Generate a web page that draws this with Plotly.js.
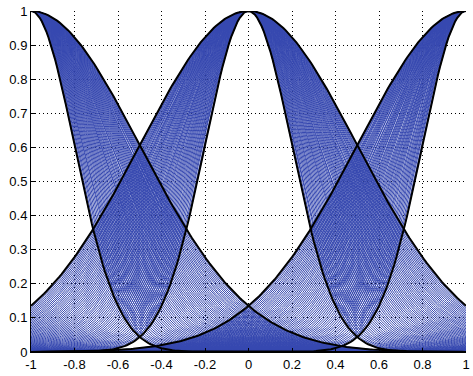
<!DOCTYPE html>
<html>
<head>
<meta charset="utf-8">
<script src="https://cdn.plot.ly/plotly-3.0.1.min.js"></script>
<style>html,body{margin:0;padding:0;background:#fff;}#plot{width:473px;height:376px;}</style>
</head>
<body>
<div id="plot"></div>
<script>
// Gaussian membership sets with uncertain width
var centers = [-1, 0, 1];
var sigmaLow = [0.2, 0.2, 0.2];
var sigmaHigh = [0.5, 0.5, 0.5];
var linesPerSet = 62;
var xTickVals = [-1, -0.8, -0.6, -0.4, -0.2, 0, 0.2, 0.4, 0.6, 0.8, 1];
var xTickText = ["-1", "-0.8", "-0.6", "-0.4", "-0.2", "0", "0.2", "0.4", "0.6", "0.8", "1"];
var yTickVals = [0, 0.1, 0.2, 0.3, 0.4, 0.5, 0.6, 0.7, 0.8, 0.9, 1];
var yTickText = ["0", "0.1", "0.2", "0.3", "0.4", "0.5", "0.6", "0.7", "0.8", "0.9", "1"];

var xs = [];
for (var i = 0; i <= 200; i++) xs.push(-1 + i * 0.01);

function gauss(c, s) {
  return xs.map(function (x) { return Math.exp(-(x - c) * (x - c) / (2 * s * s)); });
}

var traces = [];
// family of blue curves
centers.forEach(function (c, k) {
  var X = [], Y = [];
  for (var j = 0; j < linesPerSet; j++) {
    var s = sigmaLow[k] + (sigmaHigh[k] - sigmaLow[k]) * j / (linesPerSet - 1);
    var y = gauss(c, s);
    X = X.concat(xs, [null]);
    Y = Y.concat(y, [null]);
  }
  traces.push({x: X, y: Y, type: 'scatter', mode: 'lines', hoverinfo: 'skip',
    line: {color: 'rgb(54,72,176)', width: 1}, connectgaps: false, showlegend: false});
});
// black boundary curves
centers.forEach(function (c, k) {
  [sigmaLow[k], sigmaHigh[k]].forEach(function (s) {
    traces.push({x: xs, y: gauss(c, s), type: 'scatter', mode: 'lines', hoverinfo: 'skip',
      line: {color: '#000', width: 2}, showlegend: false});
  });
});

var axisCommon = {
  showgrid: true, gridcolor: '#000', gridwidth: 1, griddash: '1px,3px',
  zeroline: false, showline: true, linecolor: '#000', linewidth: 1,
  ticks: 'inside', ticklen: 4, tickcolor: '#000', tickfont: {family: 'Liberation Sans, Arial, sans-serif', size: 13, color: '#000'},
  tickmode: 'array'
};
var layout = {
  width: 473, height: 376,
  margin: {l: 31, r: 7, t: 11, b: 24},
  paper_bgcolor: '#fff', plot_bgcolor: '#fff',
  xaxis: Object.assign({}, axisCommon, {range: [-1, 1], tickvals: xTickVals, ticktext: xTickText}),
  yaxis: Object.assign({}, axisCommon, {range: [0, 1], tickvals: yTickVals, ticktext: yTickText}),
  showlegend: false
};
Plotly.newPlot('plot', traces, layout, {staticPlot: true, displayModeBar: false});
</script>
</body>
</html>
